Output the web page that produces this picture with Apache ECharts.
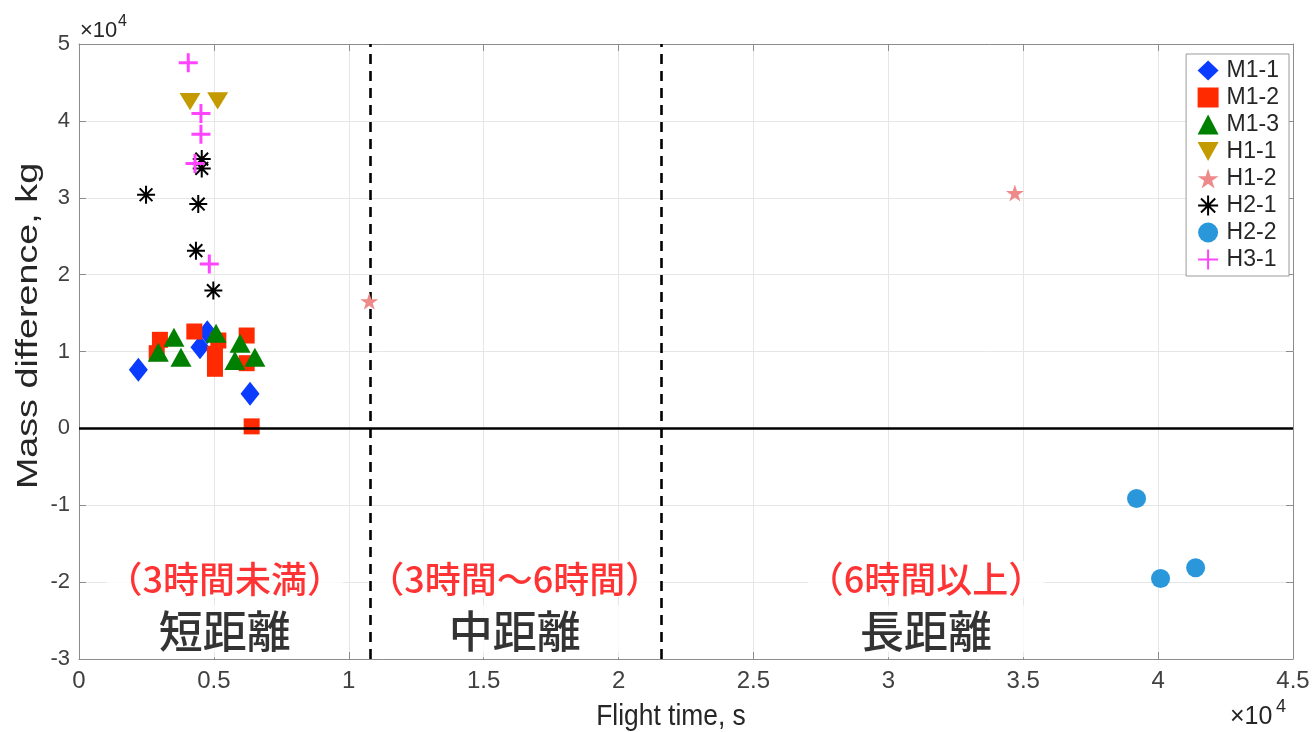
<!DOCTYPE html>
<html>
<head>
<meta charset="utf-8">
<script src="https://cdn.jsdelivr.net/npm/echarts@6/dist/echarts.min.js"></script>
<style>
  html, body { margin: 0; padding: 0; background: #ffffff; }
  #chart { width: 1313px; height: 732px; }
</style>
</head>
<body>
<div id="chart"></div>
<script>
// Flight time [s] versus mass difference [kg], one pair of arrays per group
const m11Time = [2200, 4755, 4485, 6340];
const m11Mass = [7620, 12510, 10560, 4510];

const m12Time = [3000, 2880, 4275, 5165, 5040, 5040, 6215, 6215, 6400];
const m12Mass = [11520, 9780, 12600, 11430, 9700, 7750, 12080, 8480, 260];

const m13Time = [2940, 3520, 3780, 5080, 5970, 5780, 6520];
const m13Mass = [9910, 11860, 9260, 12380, 11080, 8830, 9260];

const h11Time = [4115, 5140];
const h11Mass = [42510, 42600];

const h12Time = [10760, 34690];
const h12Mass = [16530, 30610];

const h21Time = [4550, 4550, 2485, 4420, 4335, 4980];
const h21Mass = [35030, 33810, 30390, 29180, 23120, 17920];

const h22Time = [39200, 40090, 41390];
const h22Mass = [-9130, -19520, -18140];

const h31Time = [4050, 4520, 4520, 4300, 4830];
const h31Mass = [47570, 40950, 38270, 34450, 21390];

// Axis tick labels (values shown in units of 10^4)
const xTickLabels = ['0', '0.5', '1', '1.5', '2', '2.5', '3', '3.5', '4', '4.5'];
const yTickLabels = ['-3', '-2', '-1', '0', '1', '2', '3', '4', '5'];

// Range boundaries: 3 h and 6 h in seconds
const rangeBounds = [10800, 21600];

// Range annotations
const rangeNames = ['短距離', '中距離', '長距離'];
const rangeHours = ['（3時間未満）', '（3時間〜6時間）', '（6時間以上）'];
const rangeAnchorTime = [5400, 16150, 31400];
const hoursAnchorMass = -19600;
const namesAnchorMass = -26400;

const FONT = '"Liberation Sans", Arial, Helvetica, sans-serif';
const CJK = '"Noto Sans CJK JP", "Noto Sans CJK SC", sans-serif';
const TEXT_COLOR = '#262626';
const LABEL_COLOR = '#404040';
const AXIS_COLOR = '#8c8c8c';
const GRID_COLOR = '#e6e6e6';

const zip = (xs, ys) => xs.map((x, i) => [x, ys[i]]);

const downTriangle = 'path://M0,0L20,0L10,18Z';
const fivePointStar = 'path://M10,0L12.245,6.91L19.511,6.91L13.633,11.18L15.878,18.09L10,13.82L4.122,18.09L6.367,11.18L0.489,6.91L7.755,6.91Z';
const asterisk = 'path://M10,0L10,20M0,10L20,10M2.93,2.93L17.07,17.07M17.07,2.93L2.93,17.07';
const plus = 'path://M10,0L10,20M0,10L20,10';

const groups = [
  { name: 'M1-1', xs: m11Time, ys: m11Mass, symbol: 'diamond', size: [19, 24], item: { color: '#0a3cff' } },
  { name: 'M1-2', xs: m12Time, ys: m12Mass, symbol: 'rect', size: 16, item: { color: '#ff2a00' } },
  { name: 'M1-3', xs: m13Time, ys: m13Mass, symbol: 'triangle', size: [21, 19], item: { color: '#008000' } },
  { name: 'H1-1', xs: h11Time, ys: h11Mass, symbol: downTriangle, size: [21, 19], item: { color: '#c39a00' } },
  { name: 'H1-2', xs: h12Time, ys: h12Mass, symbol: fivePointStar, size: 18, item: { color: '#ee8a8a' } },
  { name: 'H2-1', xs: h21Time, ys: h21Mass, symbol: asterisk, size: 18, item: { color: 'rgba(0,0,0,0)', borderColor: '#000000', borderWidth: 2 } },
  { name: 'H2-2', xs: h22Time, ys: h22Mass, symbol: 'circle', size: 19, item: { color: '#2b97db' } },
  { name: 'H3-1', xs: h31Time, ys: h31Mass, symbol: plus, size: 19, item: { color: 'rgba(0,0,0,0)', borderColor: '#ff44ff', borderWidth: 3 } }
];

const markerSeries = groups.map((g, i) => ({
  type: 'scatter',
  name: g.name,
  data: zip(g.xs, g.ys),
  symbol: g.symbol,
  symbolSize: g.size,
  symbolKeepAspect: true,
  itemStyle: Object.assign({ opacity: 1 }, g.item),
  emphasis: { disabled: true },
  z: 3 + i,
  silent: true
}));

// Range labels and reference lines (zero line, 3 h / 6 h boundaries)
const rangeSeries = {
  type: 'scatter',
  name: 'ranges',
  symbol: 'circle',
  symbolSize: 1,
  itemStyle: { color: 'rgba(0,0,0,0)' },
  emphasis: { disabled: true },
  silent: true,
  z: 2,
  data: rangeAnchorTime.map((t, i) => ({
    value: [t, hoursAnchorMass],
    label: {
      show: true, position: 'inside', formatter: rangeHours[i],
      fontFamily: CJK, fontSize: 36, fontWeight: 500, color: '#ff0000',
      backgroundColor: '#ffffff', padding: [0, 0]
    }
  })).concat(rangeAnchorTime.map((t, i) => ({
    value: [t, namesAnchorMass],
    label: {
      show: true, position: 'inside', formatter: rangeNames[i],
      fontFamily: CJK, fontSize: 44, fontWeight: 500, color: '#000000',
      backgroundColor: '#ffffff', padding: [4, 50, 4, 50]
    }
  }))),
  markLine: {
    silent: true,
    symbol: ['none', 'none'],
    label: { show: false },
    animation: false,
    data: [
      { yAxis: 0, lineStyle: { color: '#000000', width: 2.6, type: 'solid' } }
    ].concat(rangeBounds.map(b => ({
      xAxis: b, lineStyle: { color: '#000000', width: 2.6, type: [10, 7] }
    })))
  }
};

const boxAxis = {
  axisLine: { show: true, onZero: false, lineStyle: { color: AXIS_COLOR, width: 1 } },
  axisTick: { show: true, inside: true, length: 7, lineStyle: { color: AXIS_COLOR } }
};

const option = {
  animation: false,
  backgroundColor: '#ffffff',
  grid: { left: 79, right: 20, top: 44, bottom: 73, containLabel: false },
  xAxis: [
    Object.assign({
      type: 'value', min: 0, max: 45000, interval: 5000, position: 'bottom',
      axisLabel: {
        margin: 10, fontFamily: FONT, fontSize: 24, color: LABEL_COLOR,
        formatter: v => xTickLabels[Math.round(v / 5000)]
      },
      splitLine: { show: true, lineStyle: { color: GRID_COLOR, width: 1 } }
    }, boxAxis),
    Object.assign({
      type: 'value', min: 0, max: 45000, interval: 5000, position: 'top',
      axisLabel: { show: false }, splitLine: { show: false }
    }, boxAxis)
  ],
  yAxis: [
    Object.assign({
      type: 'value', min: -30000, max: 50000, interval: 10000, position: 'left',
      axisLabel: {
        margin: 9, fontFamily: FONT, fontSize: 22, color: LABEL_COLOR,
        formatter: v => yTickLabels[Math.round((v + 30000) / 10000)]
      },
      splitLine: { show: true, lineStyle: { color: GRID_COLOR, width: 1 } }
    }, boxAxis),
    Object.assign({
      type: 'value', min: -30000, max: 50000, interval: 10000, position: 'right',
      axisLabel: { show: false }, splitLine: { show: false }
    }, boxAxis)
  ],
  legend: {
    orient: 'vertical',
    right: 24, top: 54,
    data: groups.map(g => g.name),
    backgroundColor: '#ffffff',
    borderColor: '#9a9a9a', borderWidth: 1, borderRadius: 0,
    padding: [5, 10, 5, 11],
    itemWidth: 21, itemHeight: 20, itemGap: 4,
    selectedMode: false,
    textStyle: { fontFamily: FONT, fontSize: 23, color: TEXT_COLOR, padding: [0, 0, 0, 3] }
  },
  graphic: [
    // axis titles
    {
      type: 'text', x: 671, y: 717, scaleX: 0.88, silent: true,
      style: { text: 'Flight time, s', font: '30px ' + FONT, fill: TEXT_COLOR, align: 'center', verticalAlign: 'middle' }
    },
    {
      type: 'text', x: 29, y: 326, rotation: Math.PI / 2, scaleX: 1.3, silent: true,
      style: { text: 'Mass difference, kg', font: '29px ' + FONT, fill: TEXT_COLOR, align: 'center', verticalAlign: 'middle' }
    },
    // exponent markers of both axes
    { type: 'text', left: 80, top: 20, style: { text: '×10', font: '22px ' + FONT, fill: TEXT_COLOR } },
    { type: 'text', left: 118, top: 14, style: { text: '4', font: '16px ' + FONT, fill: TEXT_COLOR } },
    { type: 'text', left: 1230, top: 705, style: { text: '×10', font: '25px ' + FONT, fill: TEXT_COLOR } },
    { type: 'text', left: 1276, top: 698, style: { text: '4', font: '18px ' + FONT, fill: TEXT_COLOR } }
  ],
  series: [rangeSeries].concat(markerSeries)
};

const chart = echarts.init(document.getElementById('chart'), null, { renderer: 'canvas' });
chart.setOption(option);
</script>
</body>
</html>
